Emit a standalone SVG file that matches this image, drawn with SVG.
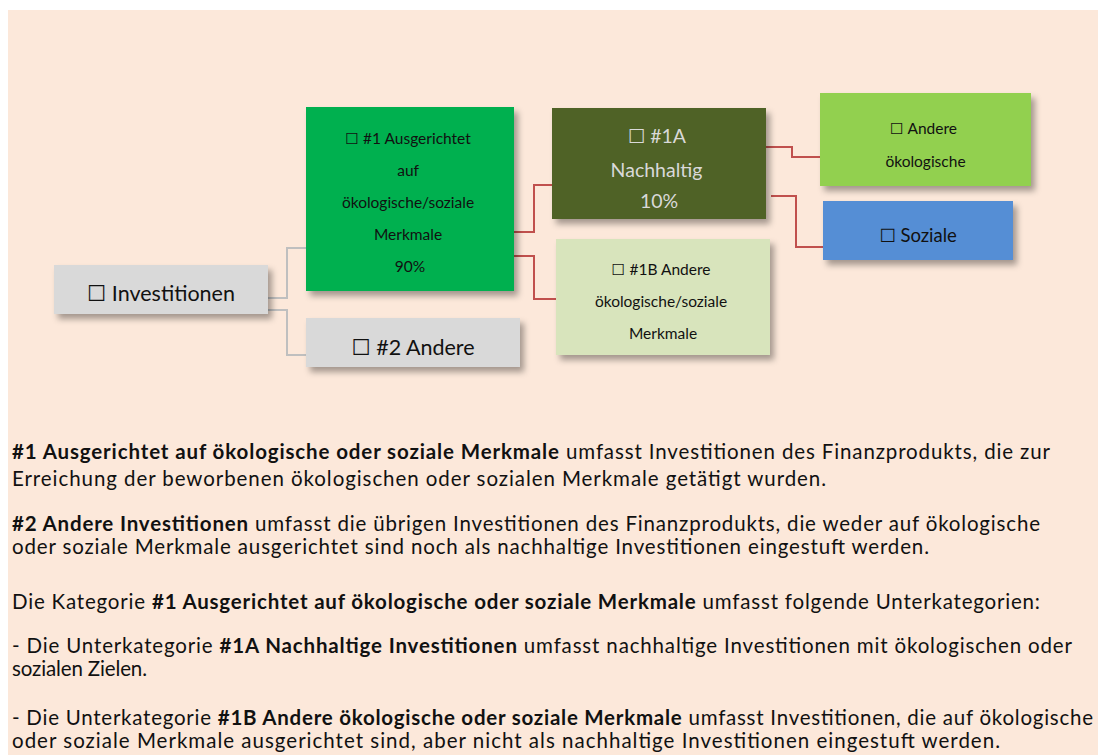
<svg xmlns="http://www.w3.org/2000/svg" width="1105" height="755" viewBox="0 0 1105 755">
<defs>
<filter id="sh" x="-10%" y="-10%" width="130%" height="140%">
<feDropShadow dx="4" dy="5" stdDeviation="3" flood-color="#000" flood-opacity="0.35"/>
</filter>
<style>
.t{font-family:Lato,"Liberation Sans","DejaVu Sans",sans-serif;text-anchor:middle;fill:#111}
.b{font-family:Lato,"Liberation Sans","DejaVu Sans",sans-serif;font-size:20.5px;fill:#111}
.bold{font-weight:bold}
.g{fill:none;stroke:#BFBFBF;stroke-width:2}
.r{fill:none;stroke:#C0504D;stroke-width:2}
</style>
</defs>
<rect x="8" y="10" width="1090" height="745" fill="#FCE8DA"/>
<g id="connectors">
<path class="g" d="M268 298 H287 V248 H306"/>
<path class="g" d="M268 310 H287 V355 H306"/>
<path class="r" d="M514 232 H534 V185 H552"/>
<path class="r" d="M512 256 H534 V299 H556"/>
<path class="r" d="M766 147 H792 V157 H820"/>
<path class="r" d="M771 196 H796 V247 H823"/>
</g>
<g id="investitionen">
<rect x="54" y="265" width="214" height="49" fill="#D9D9D9" filter="url(#sh)"/>
<text class="t" x="161" y="301" font-size="21.5">☐ Investitionen</text>
</g>
<g id="n1">
<rect x="306" y="107" width="208" height="184" fill="#00B050" filter="url(#sh)"/>
<text class="t" font-size="15.5">
<tspan x="410" y="144">☐ #1 Ausgerichtet</tspan>
<tspan x="410" y="176">auf</tspan>
<tspan x="410" y="208">ökologische/soziale</tspan>
<tspan x="410" y="240">Merkmale</tspan>
<tspan x="410" y="272">90%</tspan>
</text>
</g>
<g id="n2">
<rect x="306" y="318" width="214" height="49" fill="#D9D9D9" filter="url(#sh)"/>
<text class="t" x="413" y="355" font-size="21.5">☐ #2 Andere</text>
</g>
<g id="n1a">
<rect x="552" y="108" width="214" height="111" fill="#4F6228" filter="url(#sh)"/>
<text class="t" font-size="19.5" style="fill:#D9D9D9">
<tspan x="659" y="143">☐ #1A</tspan>
<tspan x="659" y="177">Nachhaltig</tspan>
<tspan x="659" y="208">10%</tspan>
</text>
</g>
<g id="n1b">
<rect x="556" y="239" width="214" height="116" fill="#D8E4BC" filter="url(#sh)"/>
<text class="t" font-size="15.5">
<tspan x="663" y="275">☐ #1B Andere</tspan>
<tspan x="663" y="307">ökologische/soziale</tspan>
<tspan x="663" y="339">Merkmale</tspan>
</text>
</g>
<g id="andere-oekologische">
<rect x="820" y="93" width="211" height="93" fill="#92D050" filter="url(#sh)"/>
<text class="t" font-size="15.5">
<tspan x="925.5" y="134">☐ Andere</tspan>
<tspan x="925.5" y="167">ökologische</tspan>
</text>
</g>
<g id="soziale">
<rect x="823" y="201" width="190" height="59" fill="#558ED5" filter="url(#sh)"/>
<text class="t" x="918" y="242" font-size="18.5">☐ Soziale</text>
</g>
<g id="legend">
<text class="b" x="12" y="459" textLength="1038"><tspan class="bold">#1 Ausgerichtet auf ökologische oder soziale Merkmale</tspan> umfasst Investitionen des Finanzprodukts, die zur</text>
<text class="b" x="12" y="486" textLength="814">Erreichung der beworbenen ökologischen oder sozialen Merkmale getätigt wurden.</text>
<text class="b" x="12" y="531" textLength="1028"><tspan class="bold">#2 Andere Investitionen</tspan> umfasst die übrigen Investitionen des Finanzprodukts, die weder auf ökologische</text>
<text class="b" x="12" y="554" textLength="917">oder soziale Merkmale ausgerichtet sind noch als nachhaltige Investitionen eingestuft werden.</text>
<text class="b" x="12" y="609" textLength="1028">Die Kategorie <tspan class="bold">#1 Ausgerichtet auf ökologische oder soziale Merkmale</tspan> umfasst folgende Unterkategorien:</text>
<text class="b" x="12" y="653" textLength="1060">- Die Unterkategorie <tspan class="bold">#1A Nachhaltige Investitionen</tspan> umfasst nachhaltige Investitionen mit ökologischen oder</text>
<text class="b" x="12" y="676" textLength="135">sozialen Zielen.</text>
<text class="b" x="12" y="725" textLength="1081">- Die Unterkategorie <tspan class="bold">#1B Andere ökologische oder soziale Merkmale</tspan> umfasst Investitionen, die auf ökologische</text>
<text class="b" x="12" y="748" textLength="988">oder soziale Merkmale ausgerichtet sind, aber nicht als nachhaltige Investitionen eingestuft werden.</text>
</g>
</svg>
